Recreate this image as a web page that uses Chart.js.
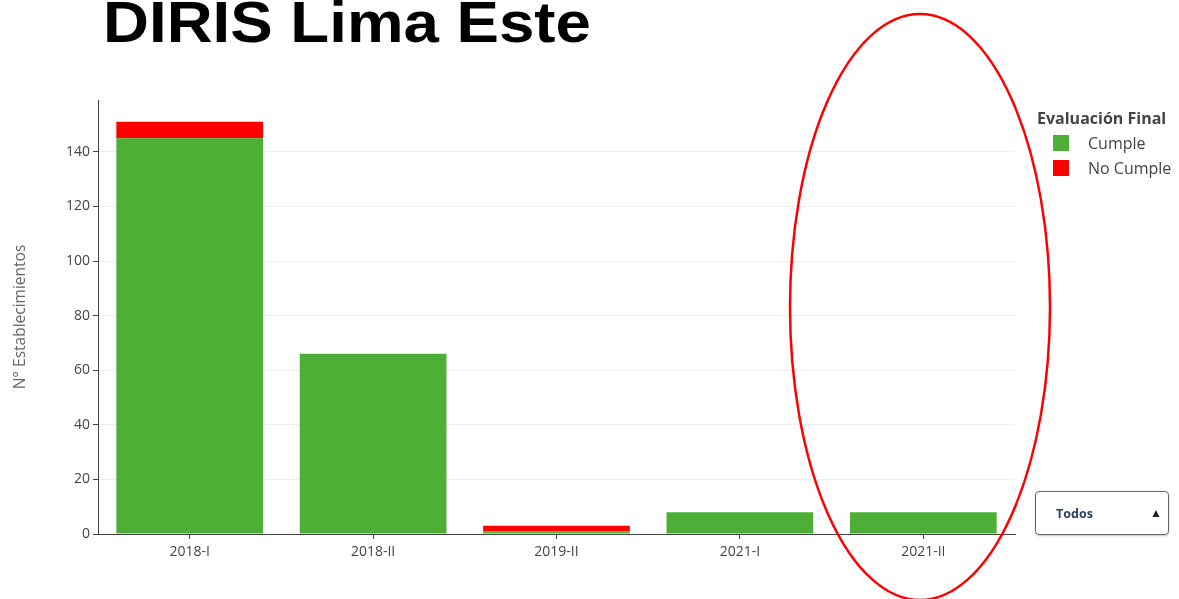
<!DOCTYPE html>
<html>
<head>
<meta charset="utf-8">
<title>DIRIS Lima Este</title>
<script src="https://cdn.jsdelivr.net/npm/chart.js@4/dist/chart.umd.min.js"></script>
<style>
  html, body { margin: 0; padding: 0; background: #fff; }
  #page { position: relative; width: 1179px; height: 599px; overflow: hidden; }
  #title {
    position: absolute; left: 103px; top: -7px;
    font: bold 58px "Liberation Sans", Arial, sans-serif; line-height: 58px; color: #000;
    transform: scaleX(1.097); transform-origin: 0 0; white-space: nowrap;
  }
  #chart-wrap { position: absolute; left: 0; top: 0; width: 1179px; height: 599px; }
  #legend { position: absolute; left: 1037px; top: 108px; font-family: "Open Sans", sans-serif; color: #444; }
  #legend .lg-title { font-weight: bold; font-size: 16px; line-height: 20px; margin-bottom: 3px; white-space: nowrap; }
  #legend .lg-item { position: relative; height: 25px; font-size: 16px; line-height: 25px; padding-left: 51px; white-space: nowrap; }
  #legend .lg-box { position: absolute; left: 16px; top: 4px; width: 16px; height: 16px; }
  #todos {
    position: absolute; left: 1035px; top: 491px; width: 132px; height: 42px;
    border: 1px solid #666; border-radius: 4px; box-shadow: 0 1px 2px rgba(0,0,0,0.25);
    font: bold 12.5px "Open Sans", sans-serif; color: #2a3f5f;
  }
  #todos .txt { position: absolute; left: 20px; top: 13px; }
  #todos .arr { position: absolute; right: 6px; top: 12px; color: #222; font-size: 12px; }
  #ellipse { position: absolute; left: 0; top: 0; pointer-events: none; }
</style>
</head>
<body>
<div id="page">
  <div id="title">DIRIS Lima Este</div>
  <div id="chart-wrap"><canvas id="barChart" width="1179" height="599"></canvas></div>
  <div id="legend"></div>
  <div id="todos"><span class="txt">Todos</span><span class="arr">&#9650;</span></div>
  <svg id="ellipse" width="1179" height="599">
    <ellipse cx="920" cy="307" rx="130" ry="293" fill="none" stroke="#ff0000" stroke-width="2.5"/>
  </svg>
</div>
<script>
// Chart data
const periods = ['2018-I', '2018-II', '2019-II', '2021-I', '2021-II'];
const cumple = [145, 66, 1, 8, 8];
const noCumple = [6, 0, 2, 0, 0];
const yTicks = [0, 20, 40, 60, 80, 100, 120, 140];

const GREEN = '#4daf35';
const RED = '#ff0000';

const buildLegend = (chart) => {
  const legend = document.getElementById('legend');
  let html = '<div class="lg-title">Evaluación Final</div>';
  chart.data.datasets.forEach(ds => {
    html += `<div class="lg-item"><span class="lg-box" style="background:${ds.backgroundColor}"></span>${ds.label}</div>`;
  });
  legend.innerHTML = html;
};

const initChart = () => {
  const ctx = document.getElementById('barChart').getContext('2d');
  const chart = new Chart(ctx, {
    type: 'bar',
    data: {
      labels: periods,
      datasets: [
        { label: 'Cumple', data: cumple, backgroundColor: GREEN },
        { label: 'No Cumple', data: noCumple, backgroundColor: RED }
      ]
    },
    options: {
      responsive: false,
      animation: false,
      layout: { padding: { left: 0, top: 100, right: 164, bottom: 0 } },
      datasets: { bar: { categoryPercentage: 0.8, barPercentage: 1 } },
      plugins: {
        legend: { display: false },
        tooltip: { enabled: false }
      },
      scales: {
        x: {
          stacked: true,
          afterFit: scale => { scale.height = 65; },
          border: { color: '#444', width: 1 },
          grid: { offset: false, drawOnChartArea: false, color: '#444', tickLength: 5 },
          ticks: { color: '#444', padding: 5, font: { family: 'Open Sans', size: 14 } }
        },
        y: {
          stacked: true,
          min: 0,
          max: 159,
          afterFit: scale => { scale.width = 98; },
          afterBuildTicks: scale => { scale.ticks = yTicks.map(v => ({ value: v })); },
          border: { color: '#444', width: 1 },
          grid: { color: '#eeeeee', tickColor: '#444', tickLength: 5 },
          ticks: { color: '#444', padding: 3, font: { family: 'Open Sans', size: 14 } },
          title: {
            display: true,
            text: 'N° Establecimientos',
            color: '#666',
            padding: { top: 11, bottom: 0 },
            font: { family: 'Open Sans', size: 15.5 }
          }
        }
      }
    }
  });
  buildLegend(chart);
};

document.addEventListener('DOMContentLoaded', initChart);
</script>
</body>
</html>
